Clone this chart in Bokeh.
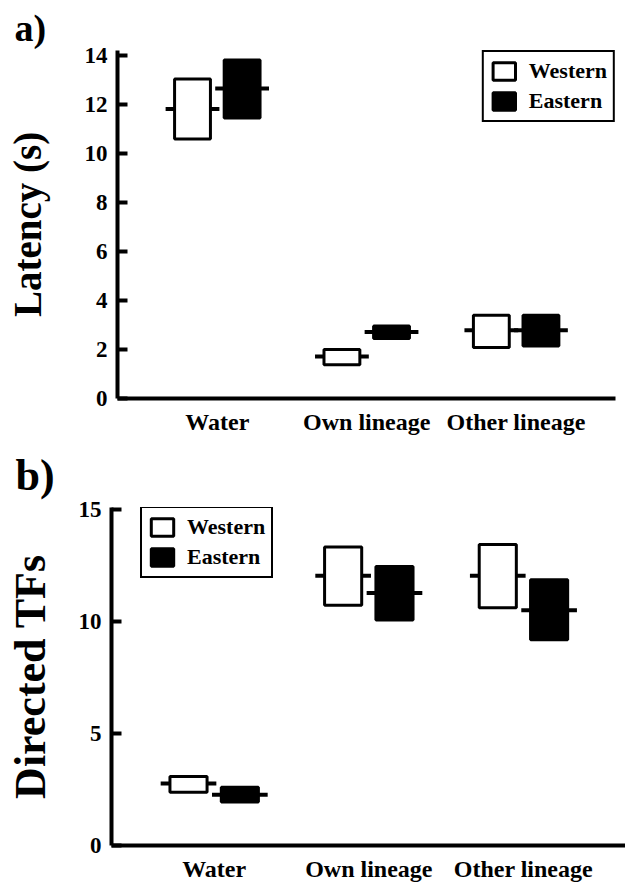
import numpy as np
from bokeh.plotting import figure
from bokeh.models import FixedTicker, Legend, LegendItem, Title
from bokeh.embed import file_html
from bokeh.resources import INLINE

# ---------------- data ----------------
categories = ["Water", "Own lineage", "Other lineage"]
groups = ["Western", "Eastern"]

# panel a) Latency (s): mean and box bounds
lat_west_mean = [11.83, 1.72, 2.79]
lat_west_low = [10.60, 1.38, 2.08]
lat_west_high = [13.06, 2.00, 3.40]
lat_east_mean = [12.67, 2.72, 2.79]
lat_east_low = [11.46, 2.45, 2.15]
lat_east_high = [13.83, 2.96, 3.40]
lat_ticks = [0, 2, 4, 6, 8, 10, 12, 14]

# panel b) Directed TFs
tfs_west_mean = [2.77, 12.05, 12.05]
tfs_west_low = [2.38, 10.73, 10.62]
tfs_west_high = [3.08, 13.33, 13.45]
tfs_east_mean = [2.27, 11.28, 10.51]
tfs_east_low = [1.94, 10.07, 9.19]
tfs_east_high = [2.60, 12.46, 11.87]
tfs_ticks = [0, 5, 10, 15]

FONT = "Liberation Serif"
GROUP_OFFSET = 0.166
BOX_HALF = 0.12
MEAN_HALF = 0.18


def make_panel(tag, tag_size, tag_offset, tag_standoff, ylabel, ylabel_size, ylabel_standoff,
               west, east, ticks, y_end, x_range, width, height, borders, legend_loc):
    left_b, right_b, top_b, bottom_b = borders
    p = figure(width=width, height=height, x_range=x_range, y_range=(0, y_end),
               output_backend="svg", toolbar_location=None,
               min_border_left=left_b, min_border_right=right_b,
               min_border_top=top_b, min_border_bottom=bottom_b)
    p.outline_line_color = None
    p.xgrid.visible = False
    p.ygrid.visible = False
    p.background_fill_color = "white"
    p.border_fill_color = "white"

    p.add_layout(Title(text=tag, align="left", offset=tag_offset, standoff=tag_standoff,
                       text_font=FONT, text_font_style="bold", text_font_size=tag_size,
                       text_color="black", vertical_align="bottom"), "above")

    xs = np.arange(1, len(categories) + 1, dtype=float)
    renderers = []
    for (mean, low, high), sign, fill in ((west, -1, "white"), (east, 1, "black")):
        xc = xs + sign * GROUP_OFFSET
        p.segment(x0=xc - MEAN_HALF, x1=xc + MEAN_HALF, y0=mean, y1=mean,
                  line_color="black", line_width=4)
        r = p.quad(left=xc - BOX_HALF, right=xc + BOX_HALF, bottom=low, top=high,
                   fill_color=fill, line_color="black", line_width=3)
        renderers.append(r)

    legend = Legend(items=[LegendItem(label=g, renderers=[r]) for g, r in zip(groups, renderers)],
                    location=legend_loc, orientation="vertical",
                    border_line_color="black", border_line_width=2.5, border_line_alpha=1.0,
                    background_fill_color="white", background_fill_alpha=1.0,
                    padding=6, spacing=4, margin=0,
                    glyph_width=28, glyph_height=22, label_height=22,
                    label_standoff=11,
                    label_text_font=FONT, label_text_font_style="bold",
                    label_text_font_size="22px", label_text_color="black")
    p.add_layout(legend)

    # axes
    for ax in (p.xaxis[0], p.yaxis[0]):
        ax.axis_line_width = 4
        ax.axis_line_color = "black"
        ax.major_tick_line_width = 4
        ax.major_tick_line_color = "black"
        ax.major_tick_in = 10
        ax.major_tick_out = 0
        ax.minor_tick_line_color = None
        ax.major_label_text_font = FONT
        ax.major_label_text_font_style = "bold"
        ax.major_label_text_color = "black"

    p.xaxis.ticker = FixedTicker(ticks=list(xs))
    overrides = {float(x): c for x, c in zip(xs, categories)}
    overrides.update({int(x): c for x, c in zip(xs, categories)})
    p.xaxis.major_label_overrides = overrides
    p.xaxis.major_tick_line_color = None
    p.xaxis.major_label_text_font_size = "24px"
    p.xaxis.major_label_standoff = 10

    p.yaxis.ticker = FixedTicker(ticks=ticks)
    p.yaxis.major_label_text_font_size = "23px"
    p.yaxis.major_label_standoff = 10
    p.yaxis.axis_label = ylabel
    p.yaxis.axis_label_text_font = FONT
    p.yaxis.axis_label_text_font_style = "bold"
    p.yaxis.axis_label_text_font_size = ylabel_size
    p.yaxis.axis_label_text_color = "black"
    p.yaxis.axis_label_standoff = ylabel_standoff
    return p


pa = make_panel("a)", "38px", -103, 3, "Latency (s)", "39px", 33,
                (lat_west_mean, lat_west_low, lat_west_high),
                (lat_east_mean, lat_east_low, lat_east_high),
                lat_ticks, 14.22, (0.332, 3.665), 625, 440,
                (117, 10, 50, 42), "top_right")

pb = make_panel("b)", "44px", -96, 16, "Directed TFs", "44px", 21,
                (tfs_west_mean, tfs_west_low, tfs_west_high),
                (tfs_east_mean, tfs_east_low, tfs_east_high),
                tfs_ticks, 15.1, (0.336, 3.66), 625, 445,
                (111, 0, 66, 40), (29, 267))

open("out.html", "w").write(file_html([pa, pb], INLINE))
